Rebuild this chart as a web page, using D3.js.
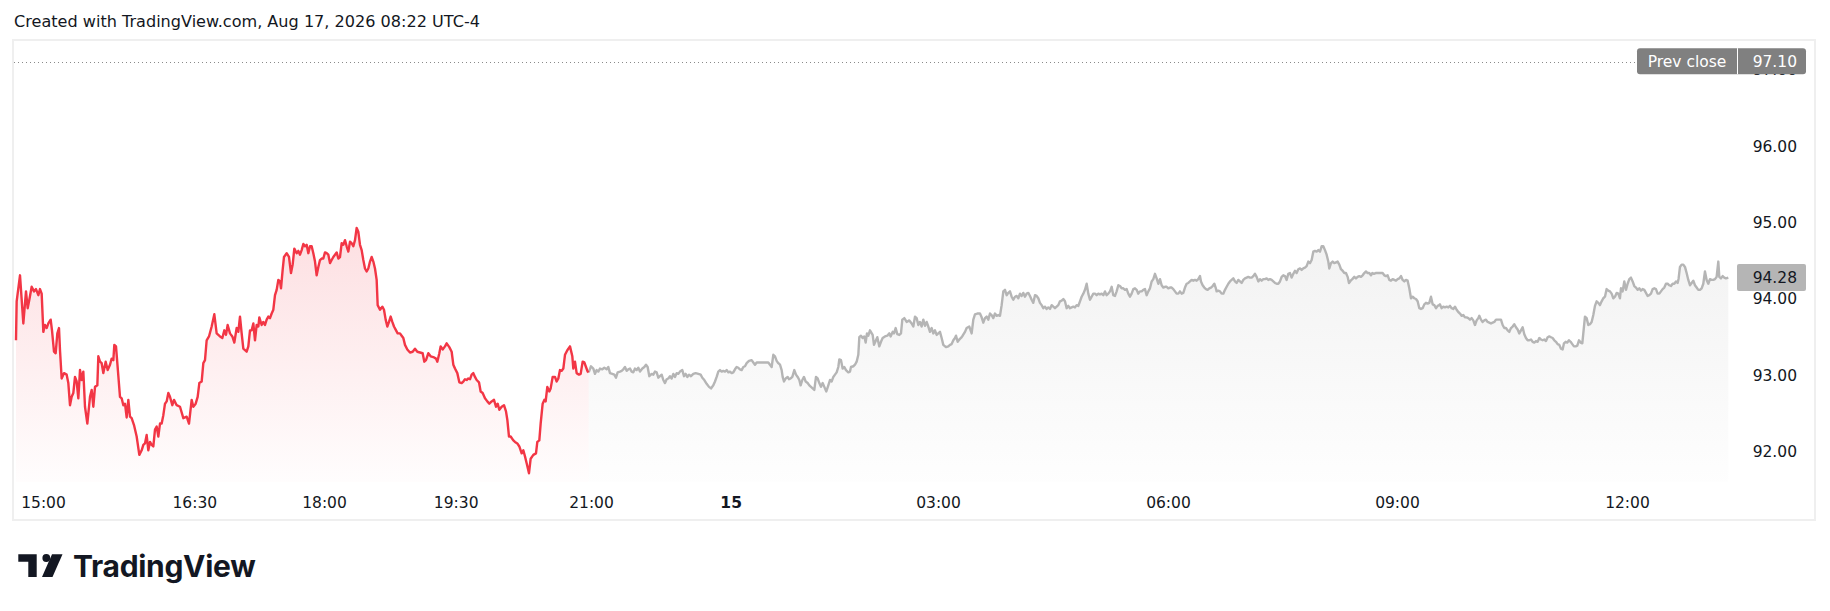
<!DOCTYPE html>
<html>
<head>
<meta charset="utf-8">
<script src="https://cdn.jsdelivr.net/npm/d3@7"></script>
<style>
  html, body { margin: 0; padding: 0; background: #fff; }
  svg { display: block; font-family: "DejaVu Sans", Verdana, sans-serif; }
</style>
</head>
<body>
<svg id="chart" width="1830" height="611"></svg>
<script>
// Regular session (red) - [bar, price]
const sessionPrices = [
  [18,93.46],[20,93.97],[30,94.31],[40,93.68],[48,94.10],[53,93.88],[58,93.99],[65,94.16],[72,94.10],[78,94.13],
  [85,94.05],[90,94.13],[95,94.07],[100,93.57],[105,93.66],[110,93.62],[115,93.68],[122,93.73],[126,93.59],[132,93.31],
  [137,93.29],[142,93.55],[147,93.62],[150,93.33],[155,92.96],[162,93.03],[170,93.01],[175,92.90],[180,92.61],[185,92.72],
  [190,92.77],[195,92.98],[200,92.92],[205,92.70],[210,93.07],[215,92.94],[220,93.05],[225,92.59],[232,92.37],[240,92.72],
  [245,92.81],[250,92.59],[255,92.85],[262,92.87],[265,93.25],[270,93.18],[275,93.16],[280,93.03],[287,93.18],[293,93.07],
  [300,93.14],[305,93.22],[310,93.20],[313,93.40],[318,93.38],[322,93.16],[330,92.72],[335,92.70],[340,92.61],[345,92.63],
  [350,92.45],[355,92.68],[360,92.46],[365,92.44],[372,92.35],[380,92.20],[388,91.96],[395,92.02],[400,92.09],[405,92.11],
  [410,92.22],[415,92.02],[420,92.13],[425,92.09],[430,92.07],[435,92.29],[440,92.33],[445,92.20],[450,92.37],[455,92.37],
  [460,92.48],[465,92.63],[470,92.66],[475,92.77],[480,92.72],[487,92.61],[492,92.68],[500,92.61],[510,92.59],[520,92.44],
  [530,92.46],[537,92.37],[545,92.68],[550,92.59],[557,92.63],[563,92.72],[568,92.90],[575,92.92],[580,93.16],
  [585,93.20],[590,93.46],[597,93.51],[605,93.64],[613,93.80],[620,93.55],[630,93.51],[637,93.49],[643,93.59],[648,93.53],
  [653,93.66],[660,93.55],[667,93.51],[673,93.43],[680,93.62],[685,93.57],[690,93.77],[695,93.55],[700,93.35],[710,93.31],
  [715,93.38],[720,93.59],[725,93.59],[730,93.68],[735,93.46],[740,93.66],[745,93.64],[748,93.76],[755,93.66],[760,93.70],
  [765,93.66],[770,93.73],[775,93.77],[780,93.75],[785,93.81],[790,93.86],[795,94.05],[800,94.12],[805,94.25],[810,94.23],
  [813,94.14],[818,94.38],[822,94.55],[830,94.60],[837,94.55],[843,94.34],[848,94.45],[853,94.66],[860,94.60],[865,94.63],
  [870,94.58],[875,94.64],[880,94.72],[885,94.69],[890,94.71],[895,94.60],[900,94.69],[905,94.69],[910,94.60],[915,94.49],
  [920,94.31],[925,94.42],[930,94.51],[935,94.53],[940,94.53],[945,94.61],[950,94.60],[955,94.58],[960,94.47],[965,94.51],
  [970,94.55],[975,94.58],[980,94.61],[985,94.53],[990,94.55],[995,94.73],[1000,94.71],[1005,94.77],[1010,94.69],[1015,94.62],
  [1020,94.75],[1025,94.73],[1030,94.69],[1035,94.77],[1040,94.93],[1045,94.88],[1050,94.71],[1055,94.64],[1060,94.51],[1065,94.40],
  [1070,94.36],[1075,94.40],[1080,94.49],[1085,94.55],[1090,94.49],[1095,94.40],[1100,94.25],[1103,93.92],[1110,93.86],[1117,93.90],
  [1122,93.86],[1127,93.73],[1132,93.64],[1137,93.70],[1142,93.77],[1147,93.70],[1152,93.64],[1157,93.60],[1163,93.55],
  [1170,93.55],[1175,93.52],[1180,93.49],[1185,93.40],[1192,93.34],[1200,93.30],[1208,93.31],[1215,93.35],[1222,93.31],[1230,93.30],
  [1238,93.29],[1243,93.18],[1248,93.20],[1255,93.29],[1262,93.25],[1270,93.24],[1278,93.22],[1282,93.18],[1288,93.29],[1292,93.38],
  [1298,93.34],[1305,93.38],[1310,93.42],[1318,93.37],[1325,93.31],[1330,93.14],[1335,93.09],[1342,93.03],[1348,92.91],[1355,92.90],
  [1360,92.92],[1365,92.95],[1370,92.94],[1375,92.96],[1380,92.95],[1385,93.01],[1390,93.03],[1395,92.98],[1400,92.94],[1407,92.91],
  [1412,92.79],[1418,92.77],[1425,92.70],[1432,92.66],[1438,92.63],[1445,92.66],[1452,92.68],[1458,92.59],[1463,92.63],[1468,92.55],
  [1475,92.59],[1482,92.61],[1488,92.53],[1492,92.42],[1497,92.20],[1502,92.20],[1510,92.15],[1515,92.13],[1522,92.11],[1528,92.07],
  [1535,91.98],[1540,92.02],[1545,91.94],[1550,91.85],[1557,91.72],[1562,91.91],[1570,91.96],[1578,91.98],[1582,92.13],[1588,92.15],
  [1592,92.37],[1598,92.63],[1603,92.68],[1607,92.66],[1612,92.85],[1618,92.79],[1622,92.83],[1628,92.98],[1635,92.98],[1640,92.92],
  [1645,92.96],[1650,93.07],[1655,93.06],[1660,93.09],[1665,93.27],[1672,93.33],[1680,93.38],[1687,93.25],[1690,93.09],[1695,93.18],
  [1700,93.03],[1707,93.01],[1712,93.02],[1718,93.18],[1723,93.17],[1728,93.11],[1733,93.05],[1736,93.04]
];

// Extended hours (grey) - [bar, price]
const extendedPrices = [
  [1736,93.04],[1737,93.05],[1743,93.12],[1750,93.09],[1755,93.02],[1760,93.07],[1765,93.05],[1770,93.09],[1777,93.08],[1783,93.10],
  [1790,93.08],[1795,93.11],[1800,93.03],[1807,93.02],[1813,93.01],[1818,92.97],[1823,93.04],[1830,93.05],[1835,93.06],[1840,93.08],
  [1845,93.11],[1850,93.06],[1855,93.08],[1860,93.09],[1865,93.05],[1870,93.04],[1875,93.09],[1880,93.07],[1885,93.10],[1890,93.05],
  [1897,93.09],[1903,93.11],[1908,93.14],[1913,93.11],[1918,92.99],[1925,93.02],[1930,93.01],[1935,93.05],[1940,93.04],[1945,92.97],
  [1950,92.99],[1955,93.01],[1960,92.94],[1965,92.90],[1970,92.95],[1975,92.96],[1980,92.99],[1985,92.96],[1990,93.02],[1995,92.98],
  [2000,93.03],[2005,93.02],[2010,93.05],[2017,93.07],[2022,92.99],[2027,93.02],[2032,92.98],[2037,93.01],[2043,92.99],[2050,93.02],
  [2057,93.03],[2065,93.02],[2072,93.01],[2077,92.97],[2083,92.94],[2090,92.89],[2097,92.85],[2103,92.83],[2110,92.87],[2115,92.92],
  [2120,92.98],[2125,93.05],[2130,93.07],[2135,93.05],[2140,93.06],[2145,93.05],[2150,93.07],[2155,93.04],[2160,93.05],[2165,93.03],
  [2170,93.04],[2175,93.08],[2180,93.11],[2185,93.10],[2190,93.08],[2195,93.07],[2200,93.11],[2205,93.12],[2210,93.16],[2217,93.19],
  [2225,93.20],[2230,93.17],[2235,93.14],[2240,93.17],[2245,93.17],[2255,93.17],[2265,93.17],[2275,93.17],[2280,93.14],[2285,93.11],
  [2290,93.27],[2295,93.25],[2300,93.19],[2305,93.16],[2310,93.14],[2315,93.07],[2318,92.98],[2322,92.92],[2327,92.96],[2333,92.98],
  [2337,92.95],[2342,92.96],[2347,92.98],[2353,93.07],[2358,93.01],[2363,92.98],[2368,92.94],[2372,92.87],[2377,92.94],[2382,92.98],
  [2387,92.92],[2393,92.90],[2398,92.87],[2403,92.85],[2408,92.83],[2413,92.81],[2418,92.98],[2423,92.96],[2428,92.90],[2433,92.85],
  [2438,92.90],[2443,92.85],[2449,92.79],[2455,92.87],[2460,92.94],[2465,92.92],[2470,92.98],[2475,93.01],[2480,93.04],[2485,93.11],
  [2488,93.21],[2493,93.20],[2498,93.09],[2503,93.11],[2508,93.07],[2515,93.04],[2520,93.05],[2523,93.11],[2530,93.12],[2535,93.14],
  [2540,93.18],[2545,93.27],[2548,93.50],[2553,93.52],[2558,93.49],[2563,93.51],[2567,93.43],[2571,93.55],[2575,93.52],
  [2580,93.59],[2588,93.53],[2592,93.40],[2598,93.46],[2602,93.50],[2608,93.38],[2613,93.44],[2618,93.49],[2625,93.51],[2632,93.52],
  [2638,93.55],[2642,93.51],[2648,93.57],[2652,93.55],[2657,93.62],[2662,93.54],[2668,93.53],[2673,93.55],[2677,93.73],[2683,93.75],
  [2690,93.70],[2698,93.72],[2705,93.68],[2710,93.64],[2715,93.77],[2720,93.75],[2725,93.66],[2730,93.70],[2735,93.64],[2740,93.73],
  [2745,93.65],[2750,93.70],[2755,93.64],[2760,93.57],[2765,93.62],[2770,93.55],[2775,93.59],[2780,93.53],[2785,93.55],[2790,93.57],
  [2795,93.49],[2800,93.40],[2808,93.37],[2815,93.38],[2820,93.40],[2825,93.41],[2830,93.46],[2835,93.49],[2838,93.52],[2843,93.44],
  [2848,93.47],[2853,93.49],[2858,93.52],[2865,93.57],[2870,93.62],[2878,93.64],[2885,93.55],[2890,93.73],[2895,93.80],[2902,93.81],
  [2910,93.81],[2915,93.76],[2920,93.69],[2925,93.75],[2930,93.77],[2935,93.73],[2940,93.81],[2945,93.79],[2950,93.75],[2955,93.81],
  [2960,93.78],[2965,93.79],[2970,93.78],[2975,93.92],[2980,94.10],[2985,94.12],[2990,94.05],[2995,94.08],[3000,94.10],[3005,94.03],
  [3010,93.99],[3015,94.03],[3020,94.04],[3025,94.01],[3030,94.07],[3035,94.04],[3040,94.08],[3045,94.03],[3050,94.07],[3055,94.08],
  [3060,94.04],[3065,93.99],[3070,93.95],[3075,94.05],[3080,94.04],[3085,94.01],[3090,93.95],[3095,93.92],[3100,93.88],[3105,93.90],
  [3110,93.87],[3115,93.89],[3120,93.87],[3125,93.92],[3130,93.90],[3135,93.88],[3140,93.90],[3145,93.92],[3150,93.97],[3155,93.98],
  [3160,94.00],[3165,93.97],[3170,93.88],[3175,93.91],[3180,93.88],[3185,93.89],[3190,93.90],[3195,93.89],[3200,93.92],[3205,93.91],
  [3210,93.97],[3215,94.03],[3220,94.07],[3225,94.12],[3230,94.20],[3235,94.07],[3240,93.99],[3245,94.03],[3250,94.07],[3255,94.07],
  [3260,94.05],[3265,94.07],[3270,94.06],[3275,94.07],[3280,94.05],[3285,94.10],[3290,94.05],[3295,94.07],[3300,94.10],[3305,94.16],
  [3310,94.05],[3315,94.04],[3320,94.10],[3325,94.18],[3330,94.17],[3335,94.14],[3340,94.14],[3345,94.12],[3350,94.13],[3355,94.07],
  [3360,94.03],[3365,94.07],[3370,94.13],[3375,94.14],[3380,94.12],[3385,94.07],[3390,94.10],[3395,94.10],[3400,94.12],[3405,94.13],
  [3410,94.05],[3415,94.10],[3420,94.14],[3425,94.23],[3430,94.26],
  [3435,94.33],[3440,94.27],[3445,94.20],[3450,94.26],[3455,94.18],[3460,94.15],[3465,94.16],[3470,94.16],[3475,94.14],[3480,94.15],
  [3485,94.15],[3490,94.13],[3495,94.10],[3500,94.07],[3505,94.07],[3510,94.10],[3515,94.07],[3520,94.08],[3525,94.15],[3530,94.20],
  [3535,94.21],[3540,94.23],[3545,94.25],[3550,94.24],[3555,94.25],[3560,94.24],[3565,94.26],[3570,94.30],[3573,94.23],[3578,94.18],
  [3583,94.15],[3588,94.13],[3593,94.12],[3598,94.14],[3603,94.15],[3608,94.17],[3613,94.20],[3617,94.15],[3620,94.10],[3625,94.11],
  [3630,94.10],[3635,94.07],[3640,94.07],[3645,94.12],[3650,94.16],[3655,94.20],[3660,94.23],[3665,94.25],[3670,94.27],[3675,94.23],
  [3680,94.21],[3685,94.25],[3690,94.23],[3695,94.21],[3700,94.25],[3705,94.27],[3710,94.28],[3715,94.29],[3720,94.28],[3725,94.28],
  [3730,94.30],[3735,94.33],[3740,94.29],[3745,94.23],[3750,94.26],[3755,94.24],[3760,94.26],[3765,94.26],[3770,94.27],[3775,94.25],
  [3780,94.26],[3785,94.25],[3790,94.23],[3795,94.21],[3800,94.20],[3805,94.20],[3810,94.23],[3815,94.29],[3820,94.31],[3825,94.30],
  [3830,94.25],[3835,94.33],[3840,94.34],[3845,94.28],[3850,94.33],[3855,94.37],[3860,94.34],[3865,94.39],[3870,94.40],[3875,94.38],
  [3880,94.40],[3885,94.41],[3890,94.43],[3895,94.49],[3900,94.47],[3905,94.51],[3910,94.62],[3915,94.63],[3920,94.62],[3925,94.64],
  [3930,94.62],[3935,94.69],[3940,94.69],[3945,94.64],[3950,94.58],[3955,94.49],[3958,94.40],[3963,94.47],[3968,94.49],[3973,94.47],
  [3978,94.48],[3983,94.49],[3988,94.45],[3993,94.39],[3998,94.37],[4003,94.34],[4008,94.34],[4013,94.29],[4017,94.21],[4022,94.24],
  [4027,94.26],[4033,94.29],[4038,94.27],[4043,94.29],[4048,94.30],[4053,94.29],[4058,94.31],[4063,94.34],[4068,94.36],[4073,94.34],
  [4078,94.34],[4083,94.31],[4087,94.34],[4092,94.33],[4097,94.34],[4102,94.34],[4107,94.34],[4112,94.34],[4118,94.34],[4123,94.31],
  [4128,94.30],[4133,94.31],[4138,94.25],[4143,94.24],[4148,94.26],[4153,94.25],[4158,94.24],[4163,94.26],[4168,94.27],[4173,94.30],
  [4178,94.25],[4183,94.23],[4188,94.25],[4193,94.24],[4198,94.14],[4203,94.01],[4208,94.03],[4213,94.01],[4218,94.00],[4223,93.97],
  [4228,93.88],[4233,93.87],[4238,93.88],[4243,93.93],[4248,93.95],[4253,93.94],[4258,93.95],[4263,94.03],[4268,93.93],[4273,93.92],
  [4278,93.88],[4283,93.91],[4288,93.92],
  [4290,93.93],[4295,93.88],[4300,93.90],[4305,93.89],[4310,93.90],[4315,93.89],[4320,93.91],[4325,93.88],[4330,93.87],[4335,93.90],
  [4340,93.86],[4345,93.83],[4350,93.81],[4355,93.78],[4360,93.79],[4365,93.76],[4370,93.76],[4375,93.75],[4380,93.73],[4385,93.75],
  [4390,93.72],[4395,93.66],[4400,93.72],[4405,93.75],[4408,93.78],[4413,93.73],[4418,93.70],[4423,93.72],[4428,93.73],[4433,93.70],
  [4438,93.69],[4443,93.68],[4448,93.69],[4453,93.70],[4458,93.73],[4463,93.73],[4468,93.73],[4473,93.73],[4478,93.66],[4483,93.62],
  [4488,93.62],[4493,93.59],[4498,93.57],[4503,93.62],[4508,93.64],[4513,93.67],[4518,93.63],[4523,93.60],[4528,93.55],[4533,93.59],
  [4538,93.63],[4543,93.54],[4548,93.49],[4553,93.46],[4558,93.46],[4563,93.47],[4568,93.44],[4573,93.43],[4578,93.45],[4583,93.44],
  [4588,93.49],[4593,93.47],[4598,93.46],[4603,93.47],[4608,93.45],[4613,93.50],[4618,93.51],[4623,93.50],[4628,93.49],[4633,93.46],
  [4638,93.44],[4643,93.41],[4648,93.40],[4653,93.35],[4658,93.34],[4662,93.42],[4667,93.44],[4672,93.43],[4677,93.46],[4682,93.44],
  [4687,93.41],[4692,93.38],[4697,93.38],[4702,93.39],[4707,93.46],[4712,93.43],[4717,93.42],[4720,93.55],[4725,93.77],[4730,93.75],
  [4735,93.66],[4740,93.67],[4745,93.70],[4750,93.79],[4755,93.91],[4760,93.97],[4765,93.95],[4770,93.92],[4775,93.97],[4780,94.01],
  [4785,94.03],[4790,94.13],[4795,94.11],[4800,94.10],[4805,94.07],[4810,94.01],[4815,94.03],[4820,94.08],[4825,94.07],[4830,94.01],
  [4833,94.14],[4838,94.10],[4843,94.23],[4848,94.12],[4853,94.20],[4858,94.26],[4863,94.28],[4868,94.23],[4873,94.17],[4878,94.15],
  [4883,94.12],[4888,94.14],[4893,94.11],[4898,94.13],[4903,94.12],[4908,94.08],[4913,94.04],[4918,94.05],[4923,94.07],[4928,94.13],
  [4933,94.14],[4938,94.13],[4943,94.07],[4948,94.07],[4953,94.10],[4958,94.13],[4963,94.15],[4968,94.20],[4973,94.20],[4978,94.18],
  [4983,94.17],[4988,94.20],[4993,94.20],[4998,94.23],[5003,94.21],[5006,94.27],[5010,94.42],[5015,94.45],[5020,94.45],[5025,94.42],
  [5030,94.34],[5035,94.25],[5040,94.18],[5045,94.21],[5050,94.24],[5055,94.18],[5060,94.15],[5065,94.12],[5070,94.12],[5075,94.14],
  [5080,94.20],[5085,94.36],[5090,94.25],[5095,94.20],[5100,94.26],[5105,94.25],[5110,94.25],[5115,94.26],[5120,94.29],[5125,94.49],
  [5128,94.29],[5133,94.27],[5138,94.30],[5143,94.28],[5148,94.27],[5155,94.28]
];

const timeTickBars = [99, 553, 942, 1337, 1743, 2162, 2784, 3474, 4161, 4851];
const timeTickLabels = ["15:00", "16:30", "18:00", "19:30", "21:00", "15", "03:00", "06:00", "09:00", "12:00"];
const priceTicks = [92, 93, 94, 95, 96, 97];
const prevClose = 97.10;
const lastPrice = 94.28;

const title = "Created with TradingView.com, Aug 17, 2026 08:22 UTC-4";

const svg = d3.select("#chart");
const textColor = "#131722";

const paneLeft = 13, paneRight = 1815, paneTop = 41, paneBottom = 482;

const x = d3.scaleLinear().domain([0, 5155]).range([10, 1728.3]);
const y = d3.scaleLinear().domain([91.605, 97.377]).range([paneBottom, paneTop]);

// title
svg.append("text")
  .attr("x", 14)
  .attr("y", 27)
  .attr("fill", textColor)
  .attr("textLength", 466)
  .attr("lengthAdjust", "spacingAndGlyphs")
  .style("font-size", "16.5px")
  .text(title);

// frame
svg.append("rect")
  .attr("x", paneLeft)
  .attr("y", paneTop - 1)
  .attr("width", paneRight - paneLeft)
  .attr("height", 520 - paneTop + 1)
  .attr("fill", "none")
  .attr("stroke", "#efefef")
  .attr("stroke-width", 2);

// gradients
const defs = svg.append("defs");
function addGradient(id, top, rgb, a0, a1) {
  const g = defs.append("linearGradient")
    .attr("id", id)
    .attr("gradientUnits", "userSpaceOnUse")
    .attr("x1", 0).attr("x2", 0)
    .attr("y1", top).attr("y2", paneBottom);
  g.append("stop").attr("offset", "0%").attr("stop-color", rgb).attr("stop-opacity", a0);
  g.append("stop").attr("offset", "100%").attr("stop-color", rgb).attr("stop-opacity", a1);
}
addGradient("redFill", y(d3.max(sessionPrices, d => d[1])), "rgb(242,54,69)", 0.16, 0.01);
addGradient("greyFill", y(d3.max(extendedPrices, d => d[1])), "rgb(128,128,128)", 0.10, 0.01);

const area = d3.area()
  .x(d => x(d[0]))
  .y0(paneBottom)
  .y1(d => y(d[1]));

const line = d3.line()
  .x(d => x(d[0]))
  .y(d => y(d[1]));

svg.append("path")
  .datum(sessionPrices)
  .attr("d", area)
  .attr("fill", "url(#redFill)");

svg.append("path")
  .datum(extendedPrices)
  .attr("d", area)
  .attr("fill", "url(#greyFill)");

svg.append("path")
  .datum(extendedPrices)
  .attr("d", line)
  .attr("fill", "none")
  .attr("stroke", "#b5b5b5")
  .attr("stroke-width", 2.4)
  .attr("stroke-linejoin", "round");

svg.append("path")
  .datum(sessionPrices)
  .attr("d", line)
  .attr("fill", "none")
  .attr("stroke", "#f23645")
  .attr("stroke-width", 2.4)
  .attr("stroke-linejoin", "round");

// prev close dotted line
const boxLeft = 1637, boxMid = 1737, boxRight = 1806;
svg.append("line")
  .attr("x1", paneLeft + 1)
  .attr("x2", boxLeft)
  .attr("y1", Math.round(y(prevClose)) + 0.5)
  .attr("y2", Math.round(y(prevClose)) + 0.5)
  .attr("stroke", "#8a8a8a")
  .attr("stroke-width", 1)
  .attr("stroke-dasharray", "1 3");

// price axis
const priceAxis = svg.append("g")
  .attr("transform", "translate(1797,0)")
  .call(d3.axisLeft(y).tickValues(priceTicks).tickFormat(d3.format(".2f")).tickSize(0).tickPadding(0));
priceAxis.select(".domain").remove();
priceAxis.selectAll("text")
  .attr("fill", textColor)
  .style("font-size", "15.5px")
  .style("font-family", "DejaVu Sans, sans-serif");

// time axis
const timeAxis = svg.append("g")
  .attr("transform", "translate(0,502)")
  .call(d3.axisBottom(x).tickValues(timeTickBars)
    .tickFormat((d, i) => timeTickLabels[i]).tickSize(0).tickPadding(0));
timeAxis.select(".domain").remove();
timeAxis.selectAll("text")
  .attr("y", 0)
  .attr("dy", "0.36em")
  .attr("fill", textColor)
  .style("font-size", "15.5px")
  .style("font-family", "DejaVu Sans, sans-serif")
  .style("font-weight", (d, i) => timeTickLabels[i] === "15" ? "bold" : "normal");

// prev close label
const pcY = y(prevClose);
svg.append("rect")
  .attr("x", boxLeft).attr("y", pcY - 14)
  .attr("width", boxRight - boxLeft).attr("height", 26)
  .attr("rx", 3)
  .attr("fill", "#808080");
svg.append("line")
  .attr("x1", boxMid + 0.5).attr("x2", boxMid + 0.5)
  .attr("y1", pcY - 14).attr("y2", pcY + 12)
  .attr("stroke", "#ffffff");
svg.append("text")
  .attr("x", (boxLeft + boxMid) / 2)
  .attr("y", pcY - 1)
  .attr("dy", "0.36em")
  .attr("text-anchor", "middle")
  .attr("fill", "#ffffff")
  .style("font-size", "15.5px")
  .text("Prev close");
svg.append("text")
  .attr("x", 1797)
  .attr("y", pcY - 1)
  .attr("dy", "0.36em")
  .attr("text-anchor", "end")
  .attr("fill", "#ffffff")
  .style("font-size", "15.5px")
  .text(prevClose.toFixed(2));

// last price label
const lpY = y(lastPrice);
svg.append("rect")
  .attr("x", boxMid).attr("y", lpY - 13.5)
  .attr("width", boxRight - boxMid).attr("height", 27)
  .attr("rx", 2)
  .attr("fill", "#b5b5b5");
svg.append("text")
  .attr("x", 1797)
  .attr("y", lpY)
  .attr("dy", "0.36em")
  .attr("text-anchor", "end")
  .attr("fill", textColor)
  .style("font-size", "15.5px")
  .text(lastPrice.toFixed(2));

// TradingView logo
const logo = svg.append("g").attr("fill", "#131722");
logo.append("path").attr("d", "M18.3,554.3 H36.7 V577 H28.3 V561.8 H18.3 Z");
logo.append("circle").attr("cx", 46.3).attr("cy", 558).attr("r", 3.9);
logo.append("path").attr("d", "M52,554.3 H62.5 L52.5,577 H42 Z");
logo.append("text")
  .attr("x", 73)
  .attr("y", 577)
  .style("font-family", "Inter, sans-serif")
  .style("font-weight", "700")
  .style("font-size", "30px")
  .style("letter-spacing", "-0.3px")
  .text("TradingView");
</script>
</body>
</html>
